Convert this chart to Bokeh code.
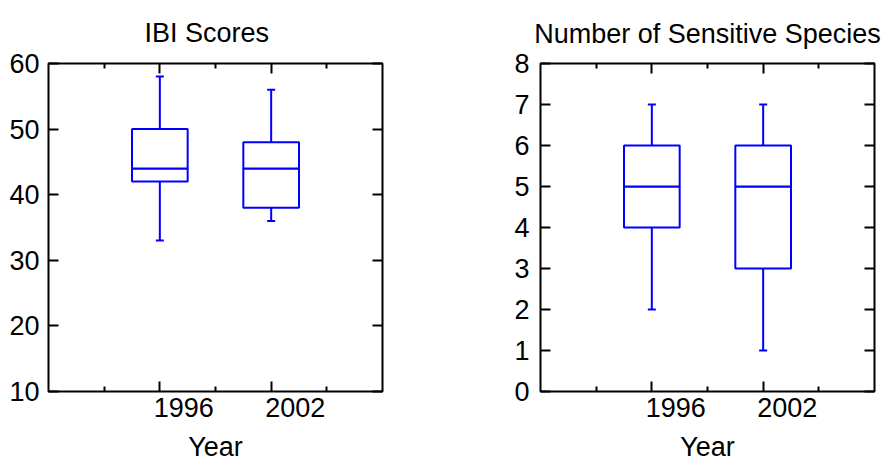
from bokeh.plotting import figure
from bokeh.models import (Range1d, LinearAxis, FixedTicker, SingleIntervalTicker,
                          CustomJSTickFormatter, Whisker, TeeHead, ColumnDataSource)
from bokeh.layouts import row
from bokeh.embed import file_html
from bokeh.resources import INLINE

# ---- data ----
years = ["1996", "2002"]

ibi_min = [33, 36]
ibi_q1 = [42, 38]
ibi_med = [44, 44]
ibi_q3 = [50, 48]
ibi_max = [58, 56]

sens_min = [2, 1]
sens_q1 = [4, 3]
sens_med = [5, 5]
sens_q3 = [6, 6]
sens_max = [7, 7]

FONT = "Liberation Sans"
FSIZE = "27px"
BLUE = "#0000ff"
LABEL_SHIFT_PX = 24   # year labels sit a little right of their tick marks


def style_axis(ax, labels=True, minor=False):
    ax.axis_line_color = None
    ax.major_tick_in = 10
    ax.major_tick_out = 0
    ax.major_tick_line_width = 2
    ax.major_tick_line_color = "black"
    if minor:
        ax.minor_tick_in = 5
        ax.minor_tick_out = 0
        ax.minor_tick_line_width = 2
        ax.minor_tick_line_color = "black"
    else:
        ax.minor_tick_line_color = None
    ax.major_label_text_font = FONT
    ax.major_label_text_color = "black"
    if labels:
        ax.major_label_text_font_size = FSIZE
    else:
        ax.formatter = CustomJSTickFormatter(code="return ''")
        ax.major_label_text_font_size = "0px"
        ax.major_label_standoff = 0


def make_panel(title, lo, q1, med, q3, hi, y0, y1, interval, width, height,
               bl, br, bt, bb, title_align, title_offset, title_standoff, ystand):
    n = len(years)
    # each year category occupies one unit slot; its centre is the slot middle
    xpos = [i + 0.5 for i in range(n)]
    src = ColumnDataSource(dict(x=xpos, year=years, lo=lo, q1=q1, med=med, q3=q3, hi=hi))
    x0, x1 = -0.5, n + 0.5
    frame_w = width - bl - br
    shift = LABEL_SHIFT_PX * (x1 - x0) / frame_w
    p = figure(width=width, height=height,
               x_range=Range1d(x0, x1),
               y_range=Range1d(y0, y1),
               x_axis_type=None, y_axis_type=None,
               output_backend="svg", toolbar_location=None,
               min_border_left=bl, min_border_right=br,
               min_border_top=bt, min_border_bottom=bb)
    p.extra_x_ranges = {"labels": Range1d(x0 - shift, x1 - shift)}
    p.outline_line_color = "black"
    p.outline_line_width = 2
    p.background_fill_color = "white"
    p.border_fill_color = "white"

    minor = [float(i) for i in range(n + 1)]

    # bottom tick marks (no labels)
    xb = LinearAxis(ticker=FixedTicker(ticks=xpos, minor_ticks=minor))
    style_axis(xb, labels=False, minor=True)

    # bottom year labels + axis title
    xl = LinearAxis(x_range_name="labels",
                    ticker=FixedTicker(ticks=xpos, minor_ticks=[]),
                    major_label_overrides={m: y for m, y in zip(xpos, years)},
                    axis_label="Year")
    xl.axis_line_color = None
    xl.major_tick_line_color = None
    xl.minor_tick_line_color = None
    xl.major_tick_in = 0
    xl.major_tick_out = 0
    xl.minor_tick_in = 0
    xl.minor_tick_out = 0
    xl.major_label_text_font = FONT
    xl.major_label_text_font_size = FSIZE
    xl.major_label_text_color = "black"
    xl.major_label_standoff = 6
    xl.axis_label_text_font = FONT
    xl.axis_label_text_font_size = FSIZE
    xl.axis_label_text_font_style = "normal"
    xl.axis_label_text_color = "black"
    xl.axis_label_standoff = 12

    xt = LinearAxis(ticker=FixedTicker(ticks=xpos, minor_ticks=minor))
    style_axis(xt, labels=False, minor=True)

    yl = LinearAxis(ticker=SingleIntervalTicker(interval=interval, num_minor_ticks=0))
    style_axis(yl, labels=True)
    yl.major_label_standoff = ystand
    yr = LinearAxis(ticker=SingleIntervalTicker(interval=interval, num_minor_ticks=0))
    style_axis(yr, labels=False)

    p.add_layout(xb, "below")
    p.add_layout(xl, "below")
    p.add_layout(xt, "above")
    p.add_layout(yl, "left")
    p.add_layout(yr, "right")

    whisk = Whisker(source=src, base="x", upper="hi", lower="lo",
                    line_color=BLUE, line_width=2, level="underlay",
                    upper_head=TeeHead(size=8, line_color=BLUE, line_width=2),
                    lower_head=TeeHead(size=8, line_color=BLUE, line_width=2))
    p.add_layout(whisk)

    p.vbar(x="x", width=0.5, bottom="q1", top="med", source=src,
           fill_color="white", line_color=BLUE, line_width=2)
    p.vbar(x="x", width=0.5, bottom="med", top="q3", source=src,
           fill_color="white", line_color=BLUE, line_width=2)

    p.title.text = title
    p.title.text_font = FONT
    p.title.text_font_size = FSIZE
    p.title.text_font_style = "normal"
    p.title.text_color = "black"
    p.title.align = title_align
    p.title.offset = title_offset
    p.title.standoff = title_standoff
    return p


p1 = make_panel("IBI Scores", ibi_min, ibi_q1, ibi_med, ibi_q3, ibi_max,
                10, 60, 10, 450, 464, 48, 68, 60, 71, "left", 96, 31, 9)
p2 = make_panel("Number of Sensitive Species", sens_min, sens_q1, sens_med, sens_q3, sens_max,
                0, 8, 1, 438, 464, 90, 14, 59, 72, "center", 0, 30, 11)

layout = row(p1, p2)

open("out.html", "w").write(file_html(layout, INLINE))
